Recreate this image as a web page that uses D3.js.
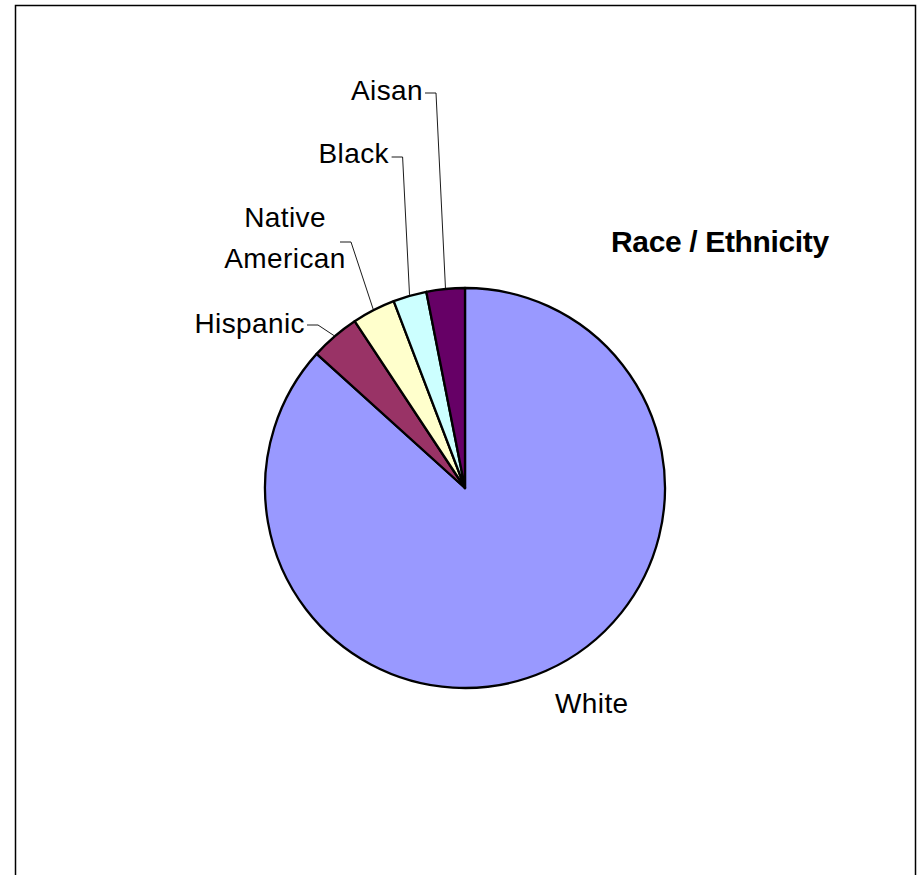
<!DOCTYPE html>
<html>
<head>
<meta charset="utf-8">
<script src="https://cdn.jsdelivr.net/npm/d3@7"></script>
<style>
  html, body { margin: 0; padding: 0; background: #ffffff; }
  svg { display: block; }
  text { font-family: "Liberation Sans", Arial, sans-serif; fill: #000; }
</style>
</head>
<body>
<svg id="chart" width="921" height="875"></svg>
<script>
// Race / ethnicity breakdown, in percent (clockwise from 12 o'clock)
const categories = ["White", "Hispanic", "Native American", "Black", "Aisan"];
const values = [86.7, 4.0, 3.5, 2.7, 3.1];
const colors = ["#9999FF", "#993366", "#FFFFCC", "#CCFFFF", "#660066"];
const title = "Race / Ethnicity";

const svg = d3.select("#chart");
const W = 921, H = 875;

// chart frame (bottom edge runs off the page)
svg.append("path")
  .attr("d", `M15.5,${H + 5} V5.5 H915.5 V${H + 5}`)
  .attr("fill", "none")
  .attr("stroke", "#000")
  .attr("stroke-width", 1.5);

const cx = 465, cy = 488, r = 200;
const data = categories.map((c, i) => ({ name: c, value: values[i], color: colors[i] }));

const pie = d3.pie().sort(null).value(d => d.value).startAngle(0).endAngle(2 * Math.PI);
const arcs = pie(data);
const arc = d3.arc().innerRadius(0).outerRadius(r);

const g = svg.append("g").attr("transform", `translate(${cx},${cy})`);
g.selectAll("path.slice")
  .data(arcs)
  .join("path")
  .attr("class", "slice")
  .attr("d", arc)
  .attr("fill", d => d.data.color)
  .attr("stroke", "#000")
  .attr("stroke-width", 2.3)
  .attr("stroke-linejoin", "round");

// label placement relative to the pie centre: text anchor point and leader elbow
const labelLayout = {
  "White":           { lines: ["White"], x: 90, y: 225, anchor: "start", leader: false },
  "Hispanic":        { lines: ["Hispanic"], x: -160, y: -155, anchor: "end", leader: true, ly: -163 },
  "Native American": { lines: ["Native", "American"], x: -180, y: -261, anchor: "middle", leader: true, lx: -114, ly: -246 },
  "Black":           { lines: ["Black"], x: -76, y: -325, anchor: "end", leader: true, ly: -331 },
  "Aisan":           { lines: ["Aisan"], x: -42, y: -388, anchor: "end", leader: true, ly: -395 }
};

const fontSize = 28, lineH = 41;
const leaderArc = d3.arc().innerRadius(r + 1).outerRadius(r + 1);

arcs.forEach(a => {
  const L = labelLayout[a.data.name];
  const t = g.append("text")
    .attr("text-anchor", L.anchor)
    .style("font-size", fontSize + "px")
    .style("letter-spacing", "0.4px");
  L.lines.forEach((ln, i) => {
    t.append("tspan").attr("x", L.x).attr("y", L.y + i * lineH).text(ln);
  });
  if (L.leader) {
    const bb = t.node().getBBox();
    const x0 = (L.lx !== undefined ? L.lx - 11 : bb.x + bb.width + 2);
    const x1 = x0 + 11;
    const p = leaderArc.centroid(a);
    g.append("path")
      .attr("d", `M${x0},${L.ly} H${x1} L${p[0]},${p[1]}`)
      .attr("fill", "none")
      .attr("stroke", "#000")
      .attr("stroke-width", 0.9);
  }
});

svg.append("text")
  .attr("x", 611)
  .attr("y", 252)
  .style("font-size", "30px")
  .style("font-weight", "bold")
  .style("letter-spacing", "-0.35px")
  .text(title);
</script>
</body>
</html>
